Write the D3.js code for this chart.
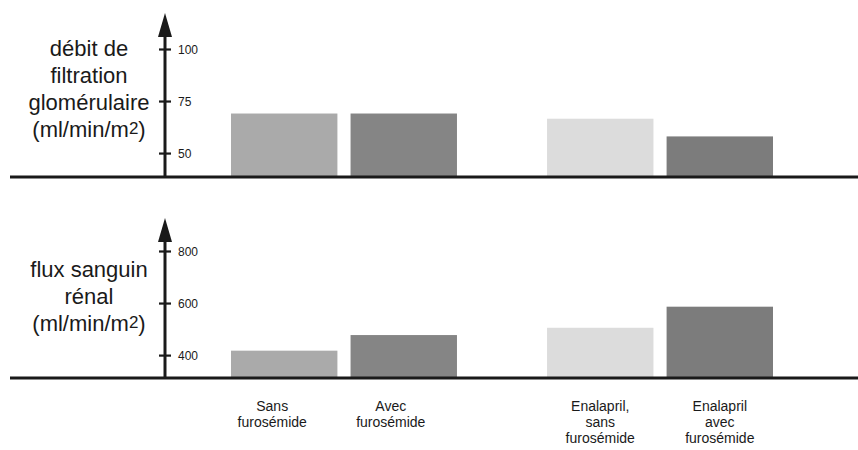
<!DOCTYPE html>
<html>
<head>
<meta charset="utf-8">
<script src="https://cdn.jsdelivr.net/npm/d3@7"></script>
<style>
  body { margin: 0; background: #fff; }
  text { font-family: "Liberation Sans", Arial, sans-serif; fill: #1a1a1a; }
</style>
</head>
<body>
<div id="chart"></div>
<script>
// data
var categories = ["sans", "avec", "enal_sans", "enal_avec"];
var groups = ["controle", "enalapril"];
var groupOf = ["controle", "controle", "enalapril", "enalapril"];
var labelLines = [
  ["Sans", "furosémide"],
  ["Avec", "furosémide"],
  ["Enalapril,", "sans", "furosémide"],
  ["Enalapril", "avec", "furosémide"]
];
var dfgValues = [69, 69, 66.5, 58];
var fsrValues = [417, 477, 505, 586];
var dfgTicks = [50, 75, 100];
var fsrTicks = [400, 600, 800];
var dfgTitle = ["débit de", "filtration", "glomérulaire", "(ml/min/m"];
var fsrTitle = ["flux sanguin", "rénal", "(ml/min/m"];
var barColors = ["#aaaaaa", "#858585", "#dcdcdc", "#7c7c7c"];

var svgWidth = 858;
var svgHeight = 450;

var svg = d3.select("#chart")
  .append("svg")
  .attr("width", svgWidth)
  .attr("height", svgHeight);

// x scales: two groups, two bars each
var x0 = d3.scaleBand()
  .domain(groups)
  .range([231, 773])
  .paddingInner(0.285)
  .paddingOuter(0);

var x1 = d3.scaleBand()
  .domain(["a", "b"])
  .range([0, x0.bandwidth()])
  .paddingInner(0.11)
  .paddingOuter(0);

function barX(i) {
  return x0(groupOf[i]) + x1(i % 2 === 0 ? "a" : "b");
}

var axisX = 165;

function drawPanel(opts) {
  var g = svg.append("g");
  var y = d3.scaleLinear()
    .domain(opts.domain)
    .range([opts.base, opts.top]);

  // bars
  g.selectAll("rect")
    .data(opts.values)
    .enter()
    .append("rect")
    .attr("x", (d, i) => barX(i))
    .attr("width", x1.bandwidth())
    .attr("y", d => y(d))
    .attr("height", d => opts.base - y(d))
    .attr("fill", (d, i) => barColors[i]);

  // baseline
  g.append("line")
    .attr("x1", 10).attr("x2", svgWidth)
    .attr("y1", opts.base).attr("y2", opts.base)
    .attr("stroke", "#1a1a1a")
    .attr("stroke-width", 3);

  // y axis
  var yAxis = g.append("g")
    .attr("transform", `translate(${axisX},0)`)
    .call(d3.axisLeft(y).tickValues(opts.ticks).tickSize(0).tickPadding(0));
  yAxis.select(".domain").remove();
  yAxis.selectAll(".tick line")
    .attr("x1", -6).attr("x2", 6)
    .attr("stroke", "#1a1a1a")
    .attr("stroke-width", 2.2);
  yAxis.selectAll(".tick text")
    .attr("x", 13)
    .attr("text-anchor", "start")
    .attr("dy", "0.35em")
    .style("font-size", "12px")
    .style("font-family", "'Liberation Sans', Arial, sans-serif")
    .attr("fill", "#1a1a1a");

  g.append("line")
    .attr("x1", axisX).attr("x2", axisX)
    .attr("y1", opts.base).attr("y2", opts.arrow + 20)
    .attr("stroke", "#1a1a1a")
    .attr("stroke-width", 3);
  g.append("path")
    .attr("d", `M${axisX},${opts.arrow} L${axisX - 7},${opts.arrow + 24} L${axisX + 7},${opts.arrow + 24} Z`)
    .attr("fill", "#1a1a1a");

  // axis title
  var title = g.append("text")
    .attr("text-anchor", "middle")
    .style("font-size", "22px");
  opts.title.forEach(function(line, i) {
    var t = title.append("tspan")
      .attr("x", 89)
      .attr("y", opts.titleY + i * 27)
      .text(line);
    if (i === opts.title.length - 1) {
      t.append("tspan")
        .style("font-size", "17px")
        .attr("dy", -3)
        .text("2");
      t.append("tspan")
        .attr("dy", 3)
        .text(")");
    }
  });
}

drawPanel({
  values: dfgValues,
  domain: [38.5, 100],
  ticks: dfgTicks,
  base: 177,
  top: 49,
  arrow: 13,
  title: dfgTitle,
  titleY: 56
});

drawPanel({
  values: fsrValues,
  domain: [312, 800],
  ticks: fsrTicks,
  base: 378,
  top: 251,
  arrow: 218,
  title: fsrTitle,
  titleY: 277
});

// category labels under the bottom panel
var labelShift = [-12, -13, 0, 0];
var labels = svg.append("g");
labelLines.forEach(function(lines, i) {
  var t = labels.append("text")
    .attr("text-anchor", "middle")
    .style("font-size", "14px");
  lines.forEach(function(line, j) {
    t.append("tspan")
      .attr("x", barX(i) + x1.bandwidth() / 2 + labelShift[i])
      .attr("y", 411 + j * 16)
      .text(line);
  });
});
</script>
</body>
</html>
